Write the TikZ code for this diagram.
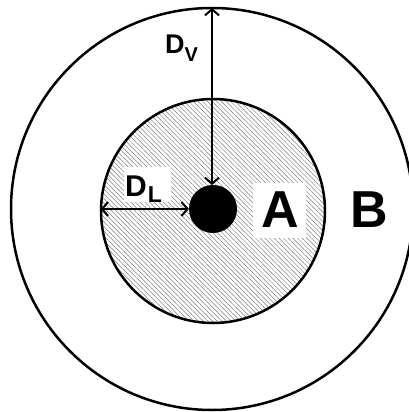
\documentclass[tikz,border=0pt]{standalone}
\usepackage{fontspec}
\setmainfont{Liberation Sans}
\usetikzlibrary{patterns.meta,arrows.meta}
\begin{document}
\begin{tikzpicture}[x=1pt,y=-1pt,
  ring/.style={circle,draw=black,line width=2.5pt,inner sep=0pt},
  hatch/.style={pattern={Lines[angle=-45,distance=3.3pt,line width=0.5pt]},pattern color=black!50},
  lbl/.style={font=\bfseries,inner sep=0pt,anchor=base west},
  dim/.style={line width=2.3pt,{Straight Barb[length=6pt,width=14pt,line width=2pt]}-{Straight Barb[length=6pt,width=14pt,line width=2pt]}},
  whitebox/.style={fill=white,draw=none}]
\useasboundingbox (0,0) rectangle (409,412);
\fill[white] (0,0) rectangle (409,412);
\node[ring,minimum size=402pt] (outer) at (212,209) {};
\node[ring,hatch,minimum size=224pt] (inner) at (213,211) {};
\fill[whitebox] (253,183) rectangle (306,238);
\fill[whitebox] (124,167) rectangle (171,202);
\node[lbl,font=\bfseries\fontsize{52}{52}\selectfont] (A) at (261,227) {A};
\node[lbl,font=\bfseries\fontsize{52}{52}\selectfont] (B) at (350,227) {B};
\node[lbl] (DV) at (165,54) {\bfseries\fontsize{27}{27}\selectfont D\raisebox{-8pt}{\bfseries\fontsize{20}{20}\selectfont V}};
\node[lbl] (DL) at (125,196) {\bfseries\fontsize{30}{30}\selectfont D\hspace{1pt}\raisebox{-6pt}{\bfseries\fontsize{23}{23}\selectfont L}};
\node[circle,fill=black,minimum size=48pt,inner sep=0pt] (dot) at (213,209) {};
\coordinate (top) at (212,8);
\coordinate (dottop) at (212,185);
\coordinate (left) at (inner.west |- dot.west);
\draw[dim] (top) -- (dottop);
\draw[dim] (left) -- (dot.west);
\end{tikzpicture}
\end{document}
